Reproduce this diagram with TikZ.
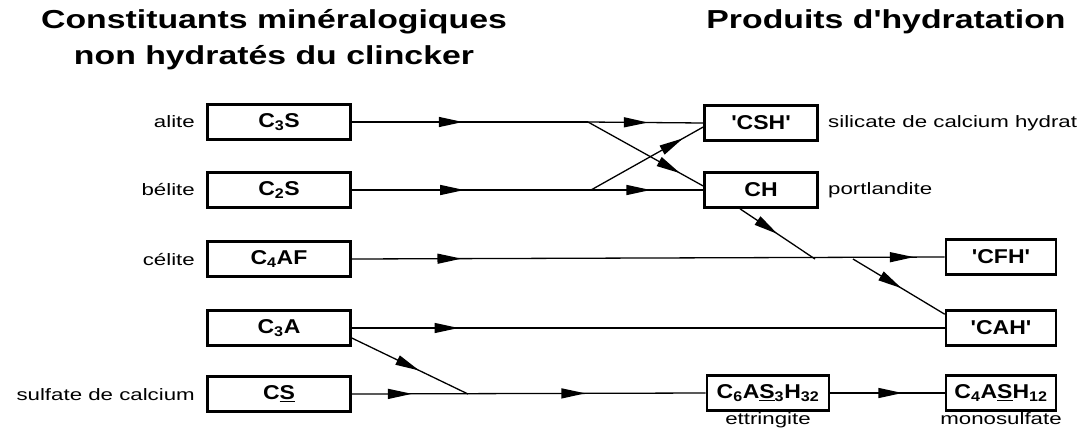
\documentclass[tikz,border=0pt]{standalone}
\usepackage{graphicx}
\usepackage{fontspec}
\setmainfont{Liberation Sans}
\usetikzlibrary{arrows.meta,decorations.markings,positioning}

\newcommand{\widetxt}[2][1.35]{\scalebox{#1}[1]{#2}}
\newcommand{\boxtxt}[1]{\widetxt[1.15]{#1}}
\newcommand{\lblfont}{\fontsize{16.5}{18}\selectfont}
\newcommand{\boxfont}{\fontsize{20}{22}\selectfont\bfseries}
\newcommand{\ttlfont}{\fontsize{26}{36}\selectfont\bfseries}
\newcommand{\sq}{\textquotesingle}

\tikzset{
  comp/.style={draw, line width=2.6pt, minimum width=143pt, minimum height=35pt,
               inner sep=0pt, font=\boxfont},
  prod/.style={comp, minimum width=#1},
  lbl/.style={font=\lblfont, inner sep=0pt},
  flow/.style={line width=1.3pt},
  tip/.tip={Triangle[length=24pt,width=10pt]},
  arrowat/.style={flow, postaction={decorate},
    decoration={markings, mark=at position #1 with {\arrow{tip}}}},
  twoarrows/.style 2 args={flow, postaction={decorate},
    decoration={markings, mark=at position #1 with {\arrow{tip}},
                          mark=at position #2 with {\arrow{tip}}}},
}

\begin{document}
\begin{tikzpicture}[x=1pt,y=-1pt]
\useasboundingbox (0,0) rectangle (1079,429);

% titres
\node[font=\ttlfont, align=center] (ttlA) at (274,40)
  {\widetxt[1.3]{Constituants minéralogiques}\\ \widetxt[1.3]{non hydratés du clincker}};
\node[font=\ttlfont] (ttlB) at (886,22) {\widetxt[1.3]{Produits d\sq hydratation}};

% constituants du clincker
\node[comp] (c3s)  at (279,122) {\boxtxt{C\textsubscript{3}S}};
\node[comp] (c2s)  at (279,190) {\boxtxt{C\textsubscript{2}S}};
\node[comp] (c4af) at (279,259) {\boxtxt{C\textsubscript{4}AF}};
\node[comp] (c3a)  at (279,328) {\boxtxt{C\textsubscript{3}A}};
\node[comp] (cs)   at (279,394) {\boxtxt{C\underline{S}}};

\node[lbl, anchor=east] (alite)  at (195,122) {\widetxt{alite}};
\node[lbl, anchor=east] (belite) at (195,190) {\widetxt{bélite}};
\node[lbl, anchor=east] (celite) at (195,259) {\widetxt{célite}};
\node[lbl, anchor=east] (sulf)   at (195,395) {\widetxt{sulfate de calcium}};

% produits
\node[prod=113pt] (csh)  at (761,123) {\boxtxt{\sq CSH\sq}};
\node[prod=113pt] (ch)   at (761,190) {\boxtxt{CH}};
\node[prod=110pt] (cfh)  at (1001,257) {\boxtxt{\sq CFH\sq}};
\node[prod=110pt] (cah)  at (1001,328) {\boxtxt{\sq CAH\sq}};
\node[prod=122pt] (ett)  at (768,393) {\boxtxt{C\textsubscript{6}A\underline{S}\textsubscript{3}H\textsubscript{32}}};
\node[prod=110pt] (mono) at (1001,393) {\boxtxt{C\textsubscript{4}A\underline{S}H\textsubscript{12}}};

\node[lbl, anchor=west] (cshtxt) at (828,123) {\widetxt{silicate de calcium hydrat}};
\node[lbl, anchor=west] (chtxt)  at (828,190) {\widetxt{portlandite}};
\node[lbl, below=1pt of ett]  (etttxt)  {\widetxt{ettringite}};
\node[lbl, below=1pt of mono] (monotxt) {\widetxt{monosulfate}};

% points de branchement
\coordinate (s1) at (588,122);
\coordinate (s2) at (591,190);
\coordinate (j1) at (815,259);
\coordinate (j2) at (853,259);
\coordinate (j3) at (468,394);

% reactions
\draw[arrowat=0.47] (c3s.east) -- (s1);
\draw[arrowat=0.52] (s1) -- (csh.west);
\draw[arrowat=0.8]  (s1) -- ([yshift=4pt]ch.west);
\draw[arrowat=0.47] (c2s.east) -- (s2);
\draw[arrowat=0.53] (s2) -- (ch.west);
\draw[arrowat=0.82] (s2) -- ([yshift=-4pt]csh.west);
\draw[twoarrows={0.185}{0.948}] (c4af.east) -- (cfh.west);
\draw[arrowat=0.5]  ([xshift=-21pt]ch.south) -- (j1);
\draw[arrowat=0.53] (j2) -- ([yshift=-5pt]cah.north west);
\draw[arrowat=0.18] (c3a.east) -- (cah.west);
\draw[arrowat=0.58] ([yshift=-10pt]c3a.east) -- (j3);
\draw[twoarrows={0.17}{0.66}] (cs.east) -- (ett.west);
\draw[arrowat=0.63] (ett.east) -- (mono.west);
\end{tikzpicture}
\end{document}
